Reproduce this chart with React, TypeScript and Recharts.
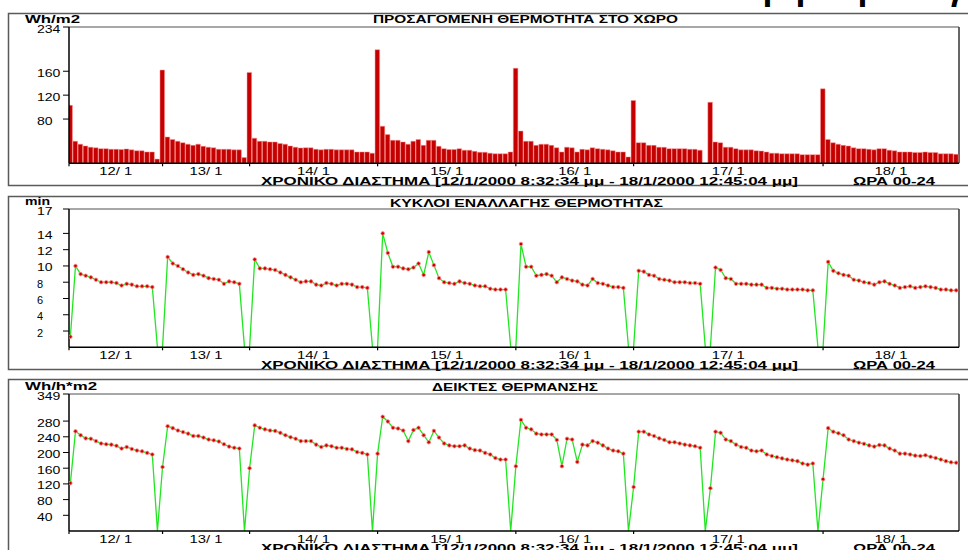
import { ComposedChart, Bar, Line, XAxis, YAxis } from 'recharts'

// one sample per heating cycle (index 0..173)
const heat = [
  103, 43, 38, 35, 33, 32, 30.5, 30.5, 29.5, 29.5,
  29, 30, 28.5, 27, 27, 25, 25, 13, 162, 50,
  46, 43, 40.5, 38, 36, 38, 34.5, 33, 32, 29.5,
  29.5, 29.5, 28.5, 28.5, 15.5, 158, 48, 43, 43, 41.7,
  41.7, 39, 38, 35, 33, 31.7, 32, 32, 29.5, 28.5,
  29.5, 29.5, 28.5, 28.5, 28.5, 28.5, 25, 25, 25, 23,
  196, 68, 54, 44.5, 44.5, 41.7, 38, 43, 46, 36,
  44.5, 44.5, 34.5, 30.5, 29, 29, 30.5, 28, 28, 26,
  24.5, 24.5, 23, 22, 22, 22, 25, 165, 60, 43,
  43, 36, 38, 38, 36, 32, 25, 33, 32, 25,
  29.5, 28.5, 32, 30.5, 29.5, 28.5, 27, 25, 25, 16.7,
  111, 40.5, 40.5, 36, 36, 33, 32.8, 30.5, 30.5, 30.5,
  30.5, 29.5, 29.5, 28, 6, 108, 41.7, 40.5, 33, 33,
  30.5, 28.5, 28.5, 28.5, 27, 26.5, 25, 23, 23, 22,
  22, 22, 22, 20.5, 20.5, 20.5, 20.5, 130.5, 46, 40.5,
  38, 36, 35, 32, 30.5, 30.5, 29.5, 28.5, 30.5, 30.5,
  28, 27, 25, 25, 25, 24, 24, 25, 24, 24,
  22, 22, 22, 21,
]

const cycles = [
  1.3, 10.0, 9.0, 8.8, 8.6, 8.3, 8.0, 8.0, 8.0, 7.9,
  7.6, 7.8, 7.7, 7.5, 7.5, 7.5, 7.4, 0, 0, 11.1,
  10.3, 10.0, 9.6, 9.2, 8.9, 9.0, 8.8, 8.5, 8.4, 8.3,
  7.8, 8.1, 8.0, 7.8, 0, 0, 10.8, 9.7, 9.7, 9.6,
  9.5, 9.2, 8.9, 8.6, 8.3, 8.0, 8.1, 8.1, 7.7, 7.6,
  7.9, 7.8, 7.6, 7.8, 7.8, 7.7, 7.4, 7.4, 7.3, 0,
  0, 14.0, 11.6, 9.9, 9.9, 9.7, 9.6, 9.8, 10.3, 8.9,
  11.7, 10.1, 8.5, 8.0, 7.9, 7.8, 8.1, 7.9, 7.8, 7.6,
  7.5, 7.5, 7.2, 7.1, 7.1, 7.1, 0, 0, 12.7, 9.9,
  9.9, 8.8, 8.9, 9.0, 8.8, 8.0, 8.6, 8.4, 8.2, 8.1,
  7.7, 7.6, 8.4, 7.9, 7.8, 7.6, 7.4, 7.4, 7.3, 0,
  0, 9.4, 9.3, 8.9, 8.8, 8.4, 8.3, 8.2, 8.0, 8.0,
  8.0, 7.9, 7.9, 7.8, 0, 0, 9.8, 9.5, 8.5, 8.4,
  7.8, 7.8, 7.8, 7.7, 7.7, 7.7, 7.3, 7.3, 7.2, 7.2,
  7.1, 7.1, 7.1, 7.1, 7.0, 7.0, 0, 0, 10.5, 9.4,
  9.1, 8.9, 8.8, 8.3, 8.2, 8.0, 7.9, 7.7, 8.0, 8.1,
  7.8, 7.6, 7.3, 7.4, 7.5, 7.3, 7.4, 7.5, 7.4, 7.3,
  7.1, 7.1, 7.0, 7.0,
]

const heatIndex = [
  122, 254, 244, 236, 235, 229, 223, 221, 220, 217,
  210, 214, 209, 205, 203, 199, 195, 0, 163, 267,
  262, 256, 252, 248, 242, 242, 238, 233, 231, 228,
  221, 215, 212, 210, 0, 160, 269, 263, 259, 256,
  255, 250, 244, 239, 235, 229, 229, 229, 220, 214,
  218, 216, 212, 212, 209, 208, 201, 199, 195, 0,
  197, 291, 279, 263, 261, 256, 229, 257, 263, 244,
  226, 255, 238, 223, 218, 216, 216, 218, 210, 206,
  205, 199, 195, 186, 182, 182, 0, 165, 283, 263,
  259, 248, 246, 246, 246, 232, 165, 235, 233, 176,
  220, 218, 229, 225, 218, 210, 205, 203, 197, 0,
  112, 253, 253, 246, 242, 236, 232, 226, 226, 223,
  220, 218, 216, 212, 0, 109, 253, 250, 233, 229,
  220, 214, 212, 205, 203, 205, 195, 191, 188, 185,
  182, 180, 178, 172, 169, 172, 0, 132, 262, 253,
  249, 244, 233, 229, 225, 222, 218, 215, 219, 218,
  210, 205, 197, 197, 195, 192, 191, 193, 189, 186,
  182, 178, 175, 174,
]

const dayLabels = ['12/ 1', '13/ 1', '14/ 1', '15/ 1', '16/ 1', '17/ 1', '18/ 1']
const dayStarts = [18, 35, 60, 87, 110, 147] // first sample of each new day

const heatTicks = [80, 120, 160, 234]
const cycleTicks = [2, 4, 6, 8, 10, 12, 14, 17]
const indexTicks = [40, 80, 120, 160, 200, 240, 280, 349]

const rows = heat.map((h, i) => ({ i, heat: h, cycles: cycles[i], index: heatIndex[i] }))

const X_MIN = -0.27
const X_MAX = 173.55
const PLOT_LEFT = 69
const PLOT_RIGHT = 959
const BAR_W = (PLOT_RIGHT - PLOT_LEFT) / (X_MAX - X_MIN)
const X_AXIS_H = 20

const edges = [X_MIN, ...dayStarts, X_MAX]
const labelAt = dayLabels.map((_, k) => (edges[k] + edges[k + 1]) / 2)
const xTicks = [X_MIN, ...dayStarts, ...labelAt].sort((a, b) => a - b)

const FONT = '"Liberation Sans", Arial, sans-serif'
const CAPTION = 'ΧΡΟΝΙΚΟ ΔΙΑΣΤΗΜΑ [12/1/2000 8:32:34 μμ - 18/1/2000 12:45:04 μμ]'

function XTick({ x, y, payload }: any) {
  const k = labelAt.findIndex((v) => Math.abs(v - payload.value) < 1e-6)
  if (k < 0) return <line x1={x} y1={y} x2={x} y2={y + 3} stroke="#000" strokeWidth={1.2} />
  return (
    <text x={x} y={y + 12} textAnchor="middle" fontFamily={FONT} fontSize={10.5} fill="#000"
      textLength={33} lengthAdjust="spacingAndGlyphs">
      {dayLabels[k]}
    </text>
  )
}

function YTick({ x, y, payload }: any) {
  const s = String(payload.value)
  return (
    <text x={x - 24} y={y + 5.5} fontFamily={FONT} fontSize={11} fill="#000"
      textLength={s.length > 1 ? s.length * 7.8 : undefined} lengthAdjust="spacingAndGlyphs">
      {s}
    </text>
  )
}

const redDot = (p: any) => {
  if (!p.value) return <g key={p.index} />
  return <circle key={p.index} cx={p.cx} cy={p.cy} r={1.8} fill="#cc0000" stroke="#ff8a8a" strokeWidth={0.8} />
}

// frame / plot geometry of each panel, page pixels
const panels = [
  { top: 13, bottom: 186, plotTop: 27, plotBottom: 163.3, title: 'ΠΡΟΣΑΓΟΜΕΝΗ ΘΕΡΜΟΤΗΤΑ ΣΤΟ ΧΩΡΟ', titleX: 525.5, titleW: 305, titleY: 23.3, unit: 'Wh/m2', unitW: 55, unitY: 22.5 },
  { top: 196, bottom: 370, plotTop: 209, plotBottom: 347.3, title: 'ΚΥΚΛΟΙ  ΕΝΑΛΛΑΓΗΣ ΘΕΡΜΟΤΗΤΑΣ', titleX: 526.5, titleW: 273, titleY: 207, unit: 'min', unitW: 25, unitY: 205 },
  { top: 379, bottom: 553, plotTop: 394, plotBottom: 531, title: 'ΔΕΙΚΤΕΣ ΘΕΡΜΑΝΣΗΣ', titleX: 515, titleW: 166, titleY: 390.7, unit: 'Wh/h*m2', unitW: 72, unitY: 389.5 },
]

function Panel({ p, yDomain, yTicks, children }: any) {
  return (
    <div style={{ position: 'absolute', left: 0, top: p.top }}>
      <ComposedChart
        width={968}
        height={p.bottom - p.top}
        data={rows}
        margin={{ top: p.plotTop - p.top, right: 968 - PLOT_RIGHT, bottom: p.bottom - p.plotBottom - X_AXIS_H, left: PLOT_LEFT - 60 }}
      >
        <XAxis type="number" dataKey="i" domain={[X_MIN, X_MAX]} allowDataOverflow ticks={xTicks} interval={0}
          tick={<XTick />} tickLine={false} tickSize={0} tickMargin={0} height={X_AXIS_H}
          axisLine={{ stroke: '#000', strokeWidth: 1.5 }} />
        <YAxis type="number" domain={yDomain} allowDataOverflow ticks={yTicks} interval={0} width={60}
          tickSize={6} tickMargin={2} tick={<YTick />} tickLine={{ stroke: '#000' }}
          axisLine={{ stroke: '#000', strokeWidth: 1.5 }} />
        {children}
      </ComposedChart>
    </div>
  )
}

function Overlay() {
  return (
    <svg width={968} height={550} style={{ position: 'absolute', left: 0, top: 0 }}>
      {/* bottoms of large glyphs cut off at the top edge */}
      <g fontFamily={FONT} fontSize={34} fontWeight="bold" fill="#000">
        <text x={763} y={0}>ρ</text>
        <text x={796} y={0}>ρ</text>
        <text x={858} y={0}>ρ</text>
        <text x={946} y={0}>γ</text>
      </g>
      {panels.map((p, k) => (
        <g key={k} fontFamily={FONT} fill="#000">
          <rect x={8.5} y={p.top + 0.5} width={1000} height={p.bottom - p.top - 1} fill="none" stroke="#5a5a5a" strokeWidth={1.5} />
          <line x1={PLOT_LEFT} y1={p.plotTop} x2={PLOT_RIGHT} y2={p.plotTop} stroke="#8a8a8a" strokeWidth={1.6} />
          <line x1={PLOT_RIGHT} y1={p.plotTop} x2={PLOT_RIGHT} y2={p.plotBottom} stroke="#404040" strokeWidth={1.6} />
          <text x={25} y={p.unitY} fontSize={11} fontWeight="bold" textLength={p.unitW} lengthAdjust="spacingAndGlyphs">{p.unit}</text>
          <text x={p.titleX} y={p.titleY} textAnchor="middle" fontSize={11} fontWeight="bold" textLength={p.titleW} lengthAdjust="spacingAndGlyphs">{p.title}</text>
          <text x={261} y={p.plotBottom + 21.4} fontSize={10} fontWeight="bold" textLength={537} lengthAdjust="spacingAndGlyphs">{CAPTION}</text>
          <text x={853} y={p.plotBottom + 21.4} fontSize={10} fontWeight="bold" textLength={82} lengthAdjust="spacingAndGlyphs">ΩΡΑ 00-24</text>
        </g>
      ))}
    </svg>
  )
}

export default function App() {
  return (
    <div style={{ position: 'absolute', left: 0, top: 0, width: 968, height: 550, overflow: 'hidden', background: '#fff' }}>
      <Overlay />
      <Panel p={panels[0]} yDomain={[6, 234]} yTicks={heatTicks}>
        <Bar dataKey="heat" fill="#c40000" stroke="#ff9494" strokeWidth={0.5} barSize={BAR_W} isAnimationActive={false} />
      </Panel>
      <Panel p={panels[1]} yDomain={[0, 17]} yTicks={cycleTicks}>
        <Line type="linear" dataKey="cycles" stroke="#22e622" strokeWidth={1.3} dot={redDot} activeDot={false} isAnimationActive={false} />
      </Panel>
      <Panel p={panels[2]} yDomain={[0, 349]} yTicks={indexTicks}>
        <Line type="linear" dataKey="index" stroke="#22e622" strokeWidth={1.3} dot={redDot} activeDot={false} isAnimationActive={false} />
      </Panel>
    </div>
  )
}
